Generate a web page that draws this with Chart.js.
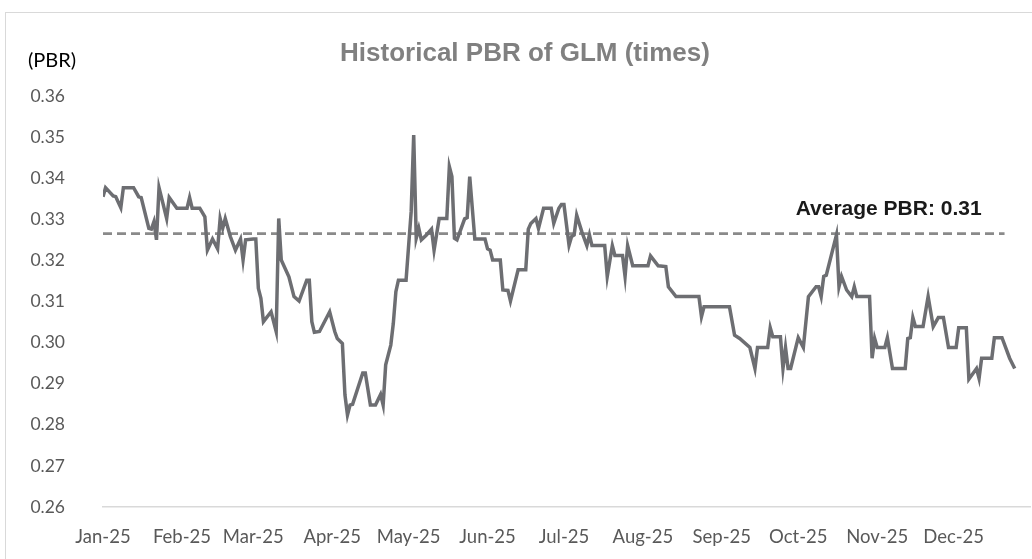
<!DOCTYPE html>
<html>
<head>
<meta charset="utf-8">
<script src="https://cdn.jsdelivr.net/npm/chart.js@4"></script>
<style>
  html, body { margin: 0; padding: 0; background: #fff; }
  #wrap { width: 1032px; height: 559px; position: relative; }
</style>
</head>
<body>
<div id="wrap"><canvas id="chart-pbr"></canvas></div>
<script>
// day of year (0 = 1 Jan 2025) and PBR
const days = [0, 1, 4, 5, 7, 8, 12, 14, 15, 18, 19, 20, 21, 22, 25, 26, 29, 33, 34, 35, 38, 40, 41, 43, 45, 46, 47, 48, 50, 52, 54, 55, 56, 59, 60,
    61, 62, 63, 66, 68, 69, 70, 73, 75, 77, 80, 81, 82, 83, 85, 89, 91, 92, 94, 95, 96, 97, 98, 102, 103, 105, 107, 109, 110, 111, 113, 114, 115, 116, 119,
    121, 122, 123, 124, 125, 127, 129, 130, 132, 135, 136, 137, 138, 139, 142, 143, 144, 146, 150, 151, 152, 153, 156, 157, 159, 160, 163, 166, 167, 168, 170, 171, 173, 176, 177, 179,
    180, 181, 183, 184, 185, 186, 188, 190, 191, 192, 197, 198, 200, 201, 204, 205, 206, 208, 214, 215, 218, 221, 222, 225, 234, 235, 236,
    246, 248, 250, 254, 256, 257, 261, 262, 263, 266, 267, 268, 269, 270, 273, 275, 277, 280, 281, 282, 283, 284, 288, 289, 290, 292, 294, 295, 296,
    301, 302, 303, 304, 307, 308, 310, 315, 316, 317, 318, 319, 322, 324, 326, 328, 330, 332, 335, 336, 339, 340, 343, 344, 345, 349, 350, 353, 356, 358];
const pbr = [0.3355, 0.3377, 0.3357, 0.3355, 0.3328, 0.3377, 0.3377, 0.3355, 0.3353, 0.3278, 0.3276, 0.3294, 0.3250, 0.3377, 0.3302, 0.3353, 0.3327, 0.3327, 0.3353, 0.3327, 0.3327, 0.3306, 0.3225, 0.3252, 0.3228, 0.3302, 0.3278, 0.3302, 0.3258, 0.3225, 0.3252, 0.3201, 0.3250, 0.3252, 0.3252,
    0.3132, 0.3108, 0.3051, 0.3075, 0.3027, 0.3302, 0.3201, 0.3160, 0.3112, 0.3101, 0.3152, 0.3152, 0.3051, 0.3025, 0.3027, 0.3075, 0.3027, 0.3010, 0.2998, 0.2873, 0.2824, 0.2848, 0.2850, 0.2926, 0.2926, 0.2848, 0.2848, 0.2874, 0.2848, 0.2946, 0.2994, 0.3047, 0.3124, 0.3152, 0.3152,
    0.3318, 0.3505, 0.3254, 0.3278, 0.3250, 0.3262, 0.3276, 0.3225, 0.3302, 0.3302, 0.3428, 0.3404, 0.3254, 0.3250, 0.3301, 0.3304, 0.3404, 0.3252, 0.3252, 0.3228, 0.3225, 0.3201, 0.3201, 0.3128, 0.3127, 0.3101, 0.3177, 0.3177, 0.3276, 0.3290, 0.3302, 0.3278, 0.3327, 0.3327, 0.3290, 0.3327,
    0.3336, 0.3336, 0.3237, 0.3258, 0.3262, 0.3310, 0.3270, 0.3236, 0.3262, 0.3236, 0.3236, 0.3161, 0.3236, 0.3212, 0.3212, 0.3161, 0.3236, 0.3187, 0.3187, 0.3211, 0.3187, 0.3185, 0.3136, 0.3112, 0.3112, 0.3063, 0.3087,
    0.3087, 0.3018, 0.3010, 0.2988, 0.2937, 0.2988, 0.2988, 0.3036, 0.3014, 0.3014, 0.2937, 0.2988, 0.2937, 0.2937, 0.3012, 0.2988, 0.3112, 0.3136, 0.3136, 0.3112, 0.3161, 0.3164, 0.3262, 0.3136, 0.3161, 0.3128, 0.3112, 0.3136, 0.3112,
    0.3112, 0.2962, 0.3010, 0.2988, 0.2988, 0.3012, 0.2937, 0.2937, 0.3010, 0.3012, 0.3061, 0.3039, 0.3039, 0.3112, 0.3039, 0.3061, 0.3061, 0.2988, 0.2988, 0.3036, 0.3036, 0.2911, 0.2937, 0.2913, 0.2962, 0.2962, 0.3012, 0.3012, 0.2962, 0.2937];

const monthStarts = [0, 31, 59, 90, 120, 151, 181, 212, 243, 273, 304, 334];
const monthLabels = ['Jan-25', 'Feb-25', 'Mar-25', 'Apr-25', 'May-25', 'Jun-25', 'Jul-25', 'Aug-25', 'Sep-25', 'Oct-25', 'Nov-25', 'Dec-25'];

const avgLevel = 0.3265;
const avgSpan = [0, 354];
const avgText = 'Average PBR: 0.31';

// frame, (PBR) unit and the average label
const extras = {
    id: 'extras',
    beforeDraw(chart) {
        const ctx = chart.ctx;
        ctx.save();
        ctx.strokeStyle = '#d9d9d9';
        ctx.lineWidth = 1;
        ctx.strokeRect(5.5, 12.5, 1100, 600);
        ctx.restore();
    },
    afterDraw(chart) {
        const ctx = chart.ctx;
        const y = chart.scales.y;
        const x = chart.scales.x;
        ctx.save();
        ctx.fillStyle = '#000';
        ctx.font = '20px Lato, "Liberation Sans Narrow", sans-serif';
        ctx.textAlign = 'left';
        ctx.textBaseline = 'middle';
        ctx.fillText('(PBR)', 28, 61);

        ctx.fillStyle = '#1a1a1a';
        ctx.font = 'bold 21px "Liberation Sans", Arial, sans-serif';
        ctx.textAlign = 'center';
        ctx.fillText(avgText, x.getPixelForValue(308.5), y.getPixelForValue(avgLevel) - 24);
        ctx.restore();
    }
};

const data = {
    datasets: [{
        label: 'PBR',
        data: days.map((d, i) => ({ x: d, y: pbr[i] })),
        borderColor: '#6d6e72',
        borderWidth: 3.5,
        pointRadius: 0,
        tension: 0
    }, {
        label: 'Average',
        data: avgSpan.map(d => ({ x: d, y: avgLevel })),
        borderColor: '#8a8a8a',
        borderWidth: 2.8,
        borderDash: [9, 5],
        pointRadius: 0
    }]
};

const config = {
    type: 'line',
    data: data,
    options: {
        responsive: true,
        maintainAspectRatio: false,
        animation: false,
        layout: { padding: { left: 20, right: 2, top: 0, bottom: 0 } },
        plugins: {
            legend: { display: false },
            tooltip: { enabled: false },
            title: {
                display: true,
                text: 'Historical PBR of GLM (times)',
                color: '#808080',
                font: { family: '"Liberation Sans", Arial, sans-serif', size: 26, weight: 'bold', lineHeight: 1.2 },
                padding: { top: 38, bottom: 26.8 }
            }
        },
        scales: {
            x: {
                type: 'linear',
                min: 0,
                max: 364,
                grid: { display: false, drawTicks: false },
                border: { display: true, color: '#d9d9d9', width: 1.5 },
                afterBuildTicks: (scale) => { scale.ticks = monthStarts.map(v => ({ value: v })); },
                afterFit: (scale) => { scale.height = 52; },
                ticks: {
                    autoSkip: false,
                    maxRotation: 0,
                    padding: 19,
                    color: '#595959',
                    font: { family: 'Lato, "Liberation Sans Narrow", sans-serif', size: 18.5 },
                    callback: (v, i) => monthLabels[i]
                }
            },
            y: {
                min: 0.26,
                max: 0.36,
                grid: { display: false, drawTicks: false },
                border: { display: false },
                afterFit: (scale) => { scale.width = 83; },
                ticks: {
                    stepSize: 0.01,
                    padding: 38,
                    color: '#595959',
                    font: { family: 'Lato, "Liberation Sans Narrow", sans-serif', size: 17.5 },
                    callback: v => v.toFixed(2)
                }
            }
        }
    },
    plugins: [extras]
};

const myChart = new Chart(
    document.getElementById('chart-pbr'),
    config
);
</script>
</body>
</html>
